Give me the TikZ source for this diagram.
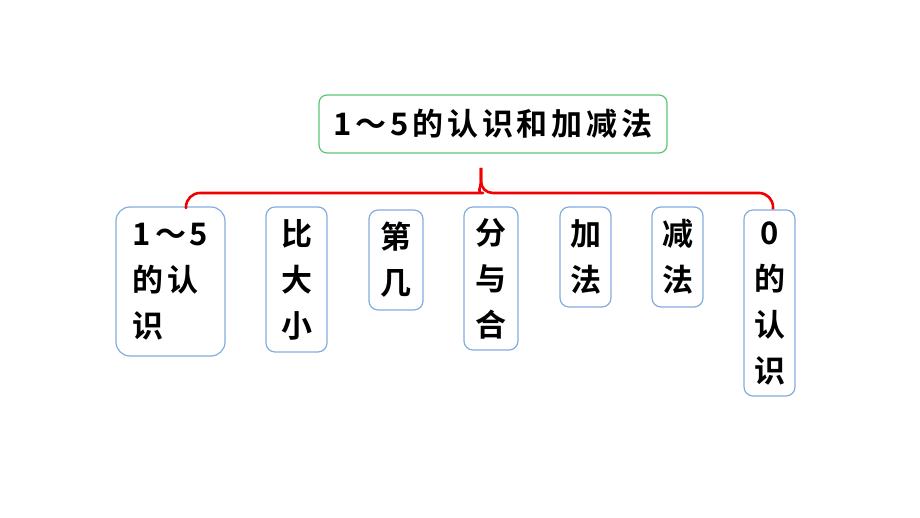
\documentclass[tikz,border=0pt]{standalone}
\usepackage{fontspec}
\newfontfamily\cjk[LetterSpace=12]{Noto Sans CJK SC Bold}
\definecolor{boxgreen}{RGB}{92,196,120}
\definecolor{boxblue}{RGB}{130,172,222}
\definecolor{bracered}{RGB}{240,0,0}
\begin{document}
\begin{tikzpicture}[x=1pt,y=-1pt,
  every node/.style={font=\cjk\fontsize{31}{46}\selectfont, text=black, inner sep=0pt},
  titlebox/.style={draw=boxgreen, line width=1.2pt, rounded corners=8pt},
  itembox/.style={draw=boxblue, line width=1.2pt, rounded corners=9pt, align=center},
  bracepath/.style={draw=bracered, line width=2.6pt, line join=round}]
\useasboundingbox (0,0) rectangle (920,518);
\node[titlebox, minimum width=348pt, minimum height=58pt] (top) at (493,124) {1～5的认识和加减法};
\node[itembox, rounded corners=14pt, align=left, minimum width=109pt, minimum height=149pt] (b1) at (170.5,281.5) {1～5\\的认\\识};
\node[itembox, minimum width=61pt, minimum height=145pt] (b2) at (296.5,279.5) {比\\大\\小};
\node[itembox, minimum width=54pt, minimum height=100pt] (b3) at (396,260) {第\\几};
\node[itembox, minimum width=54pt, minimum height=143pt] (b4) at (491,278.5) {分\\与\\合};
\node[itembox, minimum width=51pt, minimum height=100pt] (b5) at (585.5,257) {加\\法};
\node[itembox, minimum width=51pt, minimum height=100pt] (b6) at (677.5,257) {减\\法};
\node[itembox, minimum width=51pt, minimum height=186pt] (b7) at (769.5,303) {0\\的\\认\\识};
\coordinate (bl) at (186,207.5);
\coordinate (br) at (773,209.5);
\coordinate (tip) at (481,168);
\draw[bracepath] (bl) -- (186,207) -- (186,208) [rounded corners=14pt] |- (469,193) [sharp corners] .. controls (476,193) and (481,188) .. (481,181) -- (tip);
\draw[bracepath] (tip) -- (481,181) .. controls (481,188) and (486,193) .. (493,193) [rounded corners=14pt] -| (br);
\end{tikzpicture}
\end{document}
